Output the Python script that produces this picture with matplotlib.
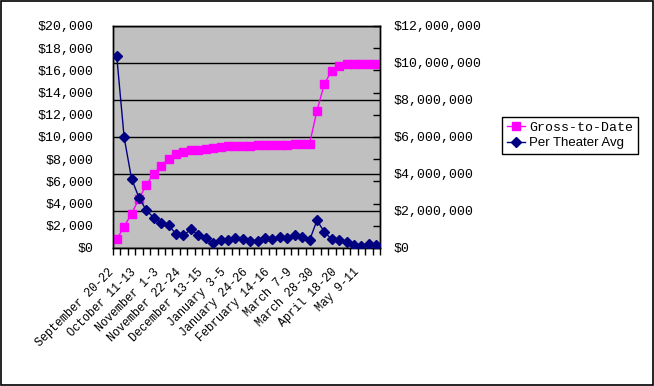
import matplotlib
matplotlib.use("Agg")
import matplotlib.pyplot as plt
import numpy as np
from matplotlib.ticker import FuncFormatter, FixedLocator
from matplotlib.patches import Rectangle

# weekend labels (only every third one is shown)
weekends = ["September 20-22", "", "", "October 11-13", "", "", "November 1-3", "", "",
            "November 22-24", "", "", "December 13-15", "", "", "January 3-5", "", "",
            "January 24-26", "", "", "February 14-16", "", "", "March 7-9", "", "",
            "March 28-30", "", "", "April 18-20", "", "", "May 9-11", "", ""]

# cumulative gross, dollars
gross_to_date = [470000, 1150000, 1860000, 2650000, 3420000, 4020000, 4430000, 4830000,
                 5060000, 5170000, 5300000, 5320000, 5350000, 5400000, 5460000, 5500000,
                 5530000, 5530000, 5530000, 5590000, 5590000, 5590000, 5590000, 5590000,
                 5640000, 5640000, 5640000, 7420000, 8880000, 9590000, 9860000, 9960000,
                 9960000, 9960000, 9960000, 9960000]

# per theater average, dollars
per_theater = [17300, 9970, 6250, 4530, 3390, 2730, 2250, 2040, 1260, 1140, 1680, 1140,
               870, 420, 750, 690, 870, 780, 600, 600, 870, 780, 960, 870, 1140, 960,
               690, 2490, 1440, 780, 690, 510, 240, 150, 330, 240]

mono = "Liberation Mono"
plt.rcParams["font.family"] = mono
x = np.arange(len(weekends))
money = FuncFormatter(lambda v, p: "${:,.0f}".format(v))

fig = plt.figure(figsize=(6.54, 3.86), dpi=100)
fig.patch.set_facecolor("white")
fig.patches.append(Rectangle((0.0008, 0.0013), 0.9984, 0.9974, transform=fig.transFigure,
                             fill=False, edgecolor="black", linewidth=1.2))

ax1 = fig.add_axes([113 / 654, 1 - 248 / 386, 267 / 654, 222 / 386])
ax1.set_facecolor("#c0c0c0")
l1, = ax1.plot(x, gross_to_date, color="#ff00ff", marker="s", markersize=5.5,
               linewidth=1, label="Gross-to-Date", zorder=3)
ax1.set_ylim(0, 12000000)
ax1.set_xlim(-0.5, len(weekends) - 0.5)
ax1.grid(axis="y", color="black", linewidth=1)
ax1.set_axisbelow(True)

# x axis: ticks at category edges, labels at centres
ax1.set_xticks(x)
ax1.set_xticklabels(weekends, rotation=45, ha="right", va="top", fontsize=8.5)
ax1.set_xticks(np.arange(-0.5, len(weekends), 1), minor=True)
ax1.tick_params(axis="x", which="major", length=0, pad=13)
ax1.tick_params(axis="x", which="minor", length=5, direction="out", width=1)

ax2 = ax1.twinx()
l2, = ax2.plot(x, per_theater, color="#000080", marker="D", markersize=5,
               linewidth=1, label="Per Theater Avg", zorder=4)
ax2.set_ylim(0, 20000)
ax2.yaxis.set_major_locator(FixedLocator(np.arange(0, 20001, 2000)))
ax2.yaxis.set_major_formatter(money)
ax2.yaxis.tick_left()
ax2.tick_params(axis="y", left=False, right=True, labelleft=True, labelright=False,
                direction="in", length=5, width=1, pad=14, labelsize=9.5)

# gross axis goes on the right (twinx moved it left)
ax1.yaxis.set_major_locator(FixedLocator(np.arange(0, 12000001, 2000000)))
ax1.yaxis.set_major_formatter(money)
ax1.yaxis.tick_right()
ax1.tick_params(axis="y", left=False, right=False, labelleft=False, labelright=True,
                length=0, pad=10, labelsize=9.5)

for a in (ax1, ax2):
    for s in a.spines.values():
        s.set_color("black")
        s.set_linewidth(1)

leg = fig.legend(handles=[l1, l2], loc="upper left",
                 bbox_to_anchor=(502 / 654, 1 - 117 / 386), fancybox=False,
                 edgecolor="black", framealpha=1, fontsize=9.5, handlelength=1.4,
                 handletextpad=0.3, borderpad=0.35, labelspacing=0.25, borderaxespad=0)
leg.get_frame().set_linewidth(1)
leg.get_texts()[1].set_family("Liberation Sans")

fig.savefig("out.png", dpi=100)
